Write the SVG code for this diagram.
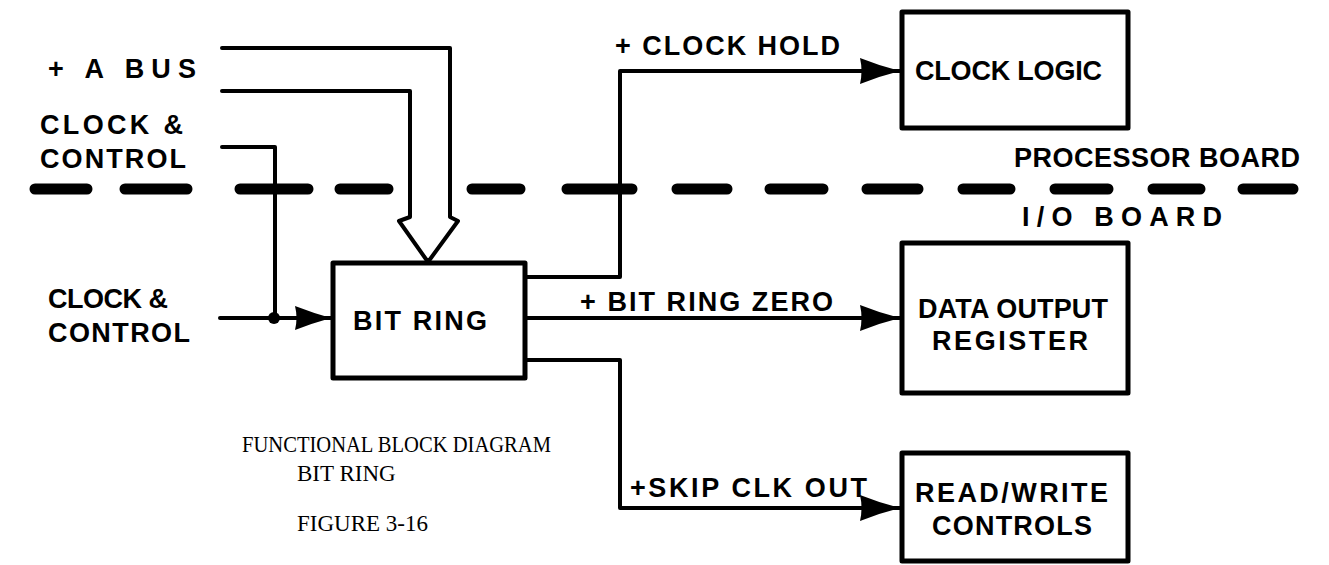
<svg xmlns="http://www.w3.org/2000/svg" width="1329" height="565" viewBox="0 0 1329 565">
<style>
.lbl{font-family:"Liberation Sans","DejaVu Sans",sans-serif;font-weight:bold;font-size:27px;fill:#000}
.cap{font-family:"Liberation Serif","DejaVu Serif",serif;font-size:23px;fill:#000}
.box{fill:#fff;stroke:#000;stroke-width:5;stroke-linejoin:round}
.wire{fill:none;stroke:#000;stroke-width:4;stroke-linejoin:round;stroke-linecap:round}
.dash{fill:none;stroke:#000;stroke-width:11;stroke-linecap:round}
</style>
<defs>
<marker id="arr" viewBox="0 0 40 26" refX="40" refY="13" markerWidth="40" markerHeight="26" markerUnits="userSpaceOnUse" orient="auto">
<path d="M0,0 Q20,8 40,13 Q20,18 0,26 Q3,13 0,0 Z" fill="#000"/>
</marker>
<marker id="arrs" viewBox="0 0 36 24" refX="36" refY="12" markerWidth="36" markerHeight="24" markerUnits="userSpaceOnUse" orient="auto">
<path d="M0,0 Q18,7 36,12 Q18,17 0,24 Q3,12 0,0 Z" fill="#000"/>
</marker>
</defs>
<rect width="1329" height="565" fill="#fff"/>

<g id="divider">
<path class="dash" d="M35,189 H87 M125,189 H187 M240,189 H308 M340,189 H388 M472,189 H520 M567,189 H632 M677,189 H727 M770,189 H823 M867,189 H918 M963,189 H1010 M1055,189 H1108 M1153,189 H1200 M1243,189 H1293"/>
<text class="lbl" x="1014" y="167" textLength="286" lengthAdjust="spacing">PROCESSOR BOARD</text>
<text class="lbl" x="1022" y="226" textLength="200" lengthAdjust="spacing">I/O BOARD</text>
</g>

<g id="connectors">
<path class="wire" d="M222,48 H450 V217 L458,221 L428,262 L399,221 L410,217 V91 H222"/>
<path class="wire" d="M222,147 H275 V318"/>
<path class="wire" d="M220,318 H331" marker-end="url(#arrs)"/>
<circle cx="274" cy="318" r="6" fill="#000"/>
<path class="wire" d="M527,277 H620 V71 H900" marker-end="url(#arr)"/>
<path class="wire" d="M527,318 H900" marker-end="url(#arr)"/>
<path class="wire" d="M527,360 H620 V508 H900" marker-end="url(#arr)"/>
</g>

<g id="inputs">
<text class="lbl" x="48" y="78" textLength="148" lengthAdjust="spacing">+ A BUS</text>
<text class="lbl" x="40" y="134" textLength="143" lengthAdjust="spacing">CLOCK &amp;</text>
<text class="lbl" x="40" y="168" textLength="146" lengthAdjust="spacing">CONTROL</text>
<text class="lbl" x="48" y="308" textLength="120" lengthAdjust="spacing">CLOCK &amp;</text>
<text class="lbl" x="48" y="342" textLength="142" lengthAdjust="spacing">CONTROL</text>
</g>

<g id="signal-labels">
<text class="lbl" x="615" y="55" textLength="225" lengthAdjust="spacing">+ CLOCK HOLD</text>
<text class="lbl" x="580" y="311" textLength="253" lengthAdjust="spacing">+ BIT RING ZERO</text>
<text class="lbl" x="630" y="497" textLength="237" lengthAdjust="spacing">+SKIP CLK OUT</text>
</g>

<g id="bit-ring">
<rect class="box" x="333" y="263" width="192" height="115"/>
<text class="lbl" x="353" y="330" textLength="134" lengthAdjust="spacing">BIT RING</text>
</g>

<g id="clock-logic">
<rect class="box" x="902" y="12" width="226" height="116"/>
<text class="lbl" x="915" y="80" textLength="187" lengthAdjust="spacing">CLOCK LOGIC</text>
</g>

<g id="data-output-register">
<rect class="box" x="902" y="243" width="226" height="150"/>
<text class="lbl" x="918" y="318" textLength="190" lengthAdjust="spacing">DATA OUTPUT</text>
<text class="lbl" x="932" y="350" textLength="156" lengthAdjust="spacing">REGISTER</text>
</g>

<g id="read-write-controls">
<rect class="box" x="902" y="453" width="226" height="108"/>
<text class="lbl" x="915" y="502" textLength="193" lengthAdjust="spacing">READ/WRITE</text>
<text class="lbl" x="932" y="535" textLength="160" lengthAdjust="spacing">CONTROLS</text>
</g>

<g id="caption">
<text class="cap" x="242" y="452" textLength="309" lengthAdjust="spacingAndGlyphs">FUNCTIONAL BLOCK DIAGRAM</text>
<text class="cap" x="297" y="481">BIT RING</text>
<text class="cap" x="297" y="531">FIGURE 3-16</text>
</g>
</svg>
